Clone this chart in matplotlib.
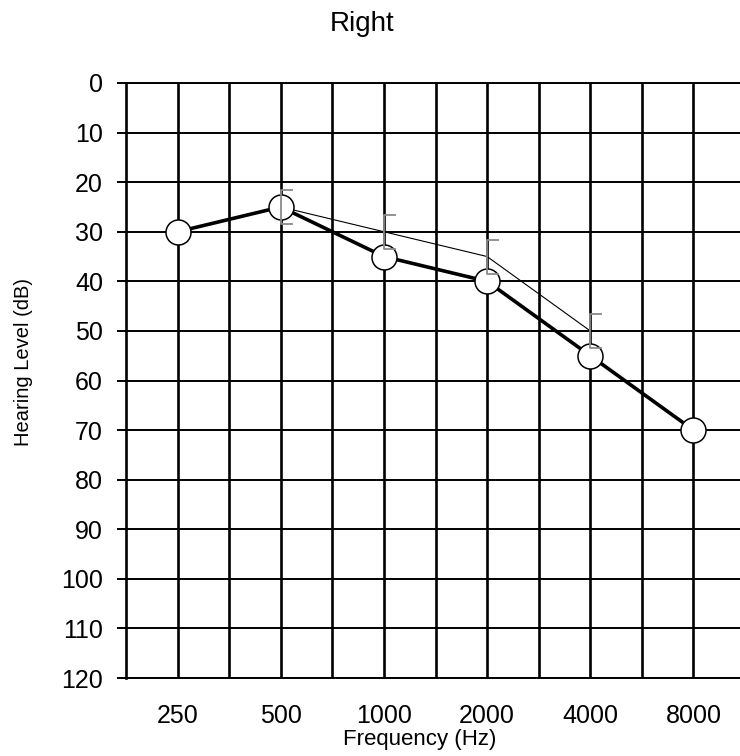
import numpy as np
import matplotlib
matplotlib.use("Agg")
import matplotlib.pyplot as plt
from matplotlib.path import Path

plt.rcParams['font.family'] = ['Liberation Sans', 'DejaVu Sans']

# audiogram values, right ear
freqs = [250, 500, 1000, 2000, 4000, 8000]
freq_labels = ['250', '500', '1000', '2000', '4000', '8000']
air_db = [30, 25, 35, 40, 55, 70]
bone_freqs = [500, 1000, 2000, 4000]
bone_db = [25, 30, 35, 50]
db_ticks = list(range(0, 121, 10))

W, H = 740, 756
fig = plt.figure(figsize=(W / 100, H / 100), dpi=100)
# plot box runs past the right edge of the picture, as in the original
ax = fig.add_axes([126 / W, 1 - 678 / H, (745 - 126) / W, (678 - 83) / H])

ax.set_xscale('log', base=2)
ax.set_xlim(250 / np.sqrt(2), 8000 * np.sqrt(2))
ax.set_ylim(120, 0)

ax.set_xticks(freqs)
ax.set_xticklabels(freq_labels)
ax.set_xticks([f * np.sqrt(2) for f in freqs[:-1]], minor=True)
ax.xaxis.set_minor_formatter(plt.NullFormatter())
ax.set_yticks(db_ticks)
ax.set_yticklabels([str(v) for v in db_ticks])

ax.tick_params(axis='x', which='both', length=0, labelsize=18, pad=19)
ax.tick_params(axis='y', which='major', length=6.5, width=1.4, color='black',
               labelsize=18, pad=10)

ax.xaxis.grid(True, which='both', color='black', lw=1.9)
ax.yaxis.grid(True, which='major', color='black', lw=1.4)
ax.set_axisbelow(True)

for side in ['left', 'top', 'bottom']:
    ax.spines[side].set_color('black')
ax.spines['left'].set_linewidth(1.9)
ax.spines['top'].set_linewidth(1.4)
ax.spines['bottom'].set_linewidth(1.4)
ax.spines['right'].set_visible(False)

# bone conduction: thin line + grey bracket markers
ax.plot(bone_freqs, bone_db, color='black', lw=0.8, zorder=3)
bracket = Path([(0.7, 1), (0, 1), (0, -1), (0.7, -1)])

# air conduction: thick line with open circles
ax.plot(freqs, air_db, color='black', lw=2.6, marker='o', ms=18,
        mfc='white', mec='black', mew=1.1, zorder=4)

ax.plot(bone_freqs, bone_db, ls='none', marker=bracket, ms=25,
        mfc='none', mec='#8a8a8a', mew=1.3, zorder=5)

fig.text(362 / W, 1 - 24 / H, 'Right', fontsize=20, ha='center', va='center')
fig.text(420 / W, 1 - 740 / H, 'Frequency (Hz)', fontsize=16,
         ha='center', va='center')
fig.text(24 / W, 1 - 362 / H, 'Hearing Level (dB)', fontsize=14.5,
         rotation=90, ha='center', va='center')

fig.savefig('out.png', dpi=100)
